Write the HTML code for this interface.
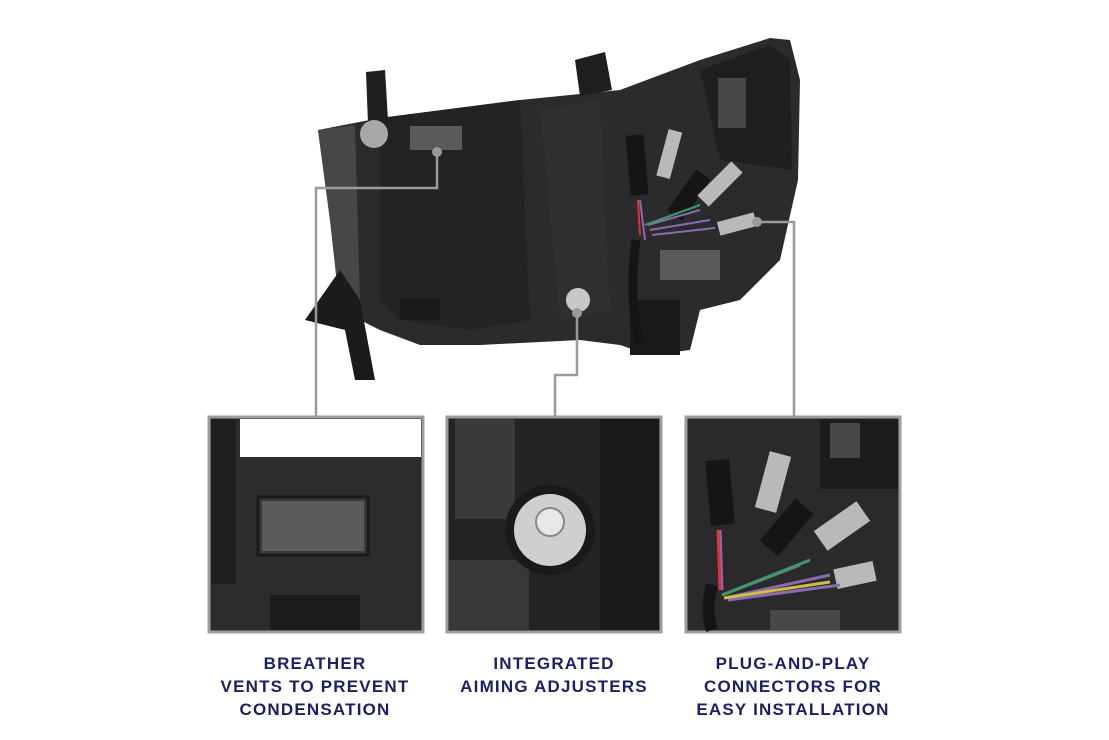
<!DOCTYPE html>
<html><head><style>
html,body{margin:0;padding:0;background:#fff;}
.wrap{position:relative;width:1109px;height:740px;overflow:hidden;background:#fff;}
.lbl{position:absolute;top:652px;width:260px;text-align:center;font-family:"Liberation Sans",sans-serif;font-weight:bold;font-size:17px;line-height:23px;color:#1b1f66;letter-spacing:1.2px;}
</style></head><body><div class="wrap">
<svg width="1109" height="740" style="position:absolute;left:0;top:0">
<path d="M318,130 L380,118 L520,100 L620,90 L700,60 L770,38 L790,40 L800,80 L798,180 L780,260 L740,300 L700,310 L690,350 L650,355 L620,345 L580,340 L480,345 L420,345 L380,330 L340,310 L330,220 Z" fill="#2b2b2d"/>
<path d="M318,130 L355,125 L360,300 L340,310 L330,220 Z" fill="#47474a"/>
<path d="M380,118 L520,100 L530,320 L470,330 L400,320 L380,300 Z" fill="#232325"/>
<path d="M540,110 L600,100 L610,310 L560,320 Z" fill="#303033"/>
<path d="M700,70 L770,45 L790,60 L792,170 L720,160 Z" fill="#1f1f21"/>
<rect x="718" y="78" width="28" height="50" fill="#48484b"/>
<path d="M366,72 L385,70 L388,120 L368,124 Z" fill="#1e1e20"/>
<path d="M575,60 L605,52 L612,90 L580,96 Z" fill="#1e1e20"/>
<path d="M305,320 L340,270 L360,300 L375,380 L355,380 L345,330 Z" fill="#1b1b1d"/>
<rect x="410" y="126" width="52" height="24" fill="#5a5a5d"/>
<circle cx="374" cy="134" r="14" fill="#a8a8aa"/>
<circle cx="578" cy="300" r="12" fill="#c8c8ca"/>
<rect x="400" y="298" width="40" height="22" fill="#1a1a1c"/>
<rect x="660" y="250" width="60" height="30" fill="#5a5a5d"/>
<rect x="630" y="300" width="50" height="55" fill="#1a1a1c"/>
<rect x="628" y="135" width="18" height="60" fill="#151517" transform="rotate(-5 637 165)"/>
<rect x="662" y="130" width="14" height="48" fill="#b9b9bb" transform="rotate(15 669 155)"/>
<rect x="680" y="170" width="18" height="50" fill="#151517" transform="rotate(35 689 195)"/>
<rect x="712" y="160" width="16" height="48" fill="#b9b9bb" transform="rotate(45 720 184)"/>
<rect x="730" y="205" width="14" height="38" fill="#b9b9bb" transform="rotate(75 737 224)"/>
<path d="M640,200 L645,240 M648,225 L700,210 M650,230 L710,220 M652,235 L715,228" stroke="#8a6ab0" stroke-width="2" fill="none"/>
<path d="M638,200 L640,235" stroke="#d33" stroke-width="2"/>
<path d="M645,225 L700,205" stroke="#3a9a6a" stroke-width="2"/>
<path d="M636,240 Q628,300 640,345" stroke="#151517" stroke-width="9" fill="none"/>
<g stroke="#9a9a9a" stroke-width="2.5" fill="none">
<path d="M437,152 L437,188 L316,188 L316,416"/>
<path d="M577,310 L577,375 L555,375 L555,416"/>
<path d="M755,222 L794,222 L794,416"/>
</g>
<circle cx="437" cy="152" r="5" fill="#9a9a9a"/>
<circle cx="577" cy="313" r="5" fill="#9a9a9a"/>
<circle cx="757" cy="222" r="5" fill="#9a9a9a"/>
<rect x="209" y="417" width="214" height="215" fill="#2c2c2e" stroke="#9d9d9d" stroke-width="3"/>
<rect x="240" y="419" width="181" height="38" fill="#fff"/>
<rect x="211" y="419" width="25" height="165" fill="#1e1e20"/>
<rect x="258" y="497" width="110" height="58" fill="#3a3a3c" stroke="#1a1a1c" stroke-width="3"/>
<rect x="262" y="501" width="102" height="50" fill="#5b5b5e"/>
<rect x="270" y="595" width="90" height="35" fill="#1c1c1e"/>
<rect x="447" y="417" width="214" height="215" fill="#242426" stroke="#9d9d9d" stroke-width="3"/>
<rect x="455" y="419" width="60" height="100" fill="#3a3a3c"/>
<rect x="449" y="560" width="80" height="70" fill="#38383a"/>
<rect x="600" y="419" width="59" height="211" fill="#1a1a1c"/>
<circle cx="550" cy="530" r="45" fill="#1a1a1c"/>
<circle cx="550" cy="530" r="36" fill="#cfcfd1"/>
<circle cx="550" cy="522" r="14" fill="#e8e8ea" stroke="#888" stroke-width="2"/>
<rect x="686" y="417" width="214" height="215" fill="#2a2a2c" stroke="#9d9d9d" stroke-width="3"/>
<rect x="820" y="419" width="78" height="70" fill="#1c1c1e"/>
<rect x="830" y="423" width="30" height="35" fill="#47474a"/>
<rect x="708" y="460" width="24" height="65" fill="#151517" transform="rotate(-5 720 492)"/>
<rect x="762" y="453" width="22" height="58" fill="#b9b9bb" transform="rotate(15 773 482)"/>
<rect x="775" y="500" width="24" height="55" fill="#151517" transform="rotate(40 787 527)"/>
<rect x="830" y="500" width="24" height="52" fill="#b9b9bb" transform="rotate(55 842 526)"/>
<rect x="845" y="555" width="20" height="40" fill="#b9b9bb" transform="rotate(78 855 575)"/>
<path d="M720,530 L722,590 M722,595 L800,565 M725,598 L830,575 M728,600 L840,585" stroke="#8a6ab0" stroke-width="3" fill="none"/>
<path d="M718,530 L720,590" stroke="#d33" stroke-width="3"/>
<path d="M722,595 L810,560" stroke="#3a9a6a" stroke-width="3"/>
<path d="M724,598 L830,582" stroke="#cdbf40" stroke-width="3"/>
<path d="M712,585 Q705,610 712,630" stroke="#151517" stroke-width="12" fill="none"/>
<rect x="770" y="610" width="70" height="20" fill="#48484b"/>
</svg>
<div class="lbl" style="left:185px">BREATHER<br>VENTS TO PREVENT<br>CONDENSATION</div>
<div class="lbl" style="left:424px">INTEGRATED<br>AIMING ADJUSTERS</div>
<div class="lbl" style="left:663px">PLUG-AND-PLAY<br>CONNECTORS FOR<br>EASY INSTALLATION</div>
</div></body></html>
